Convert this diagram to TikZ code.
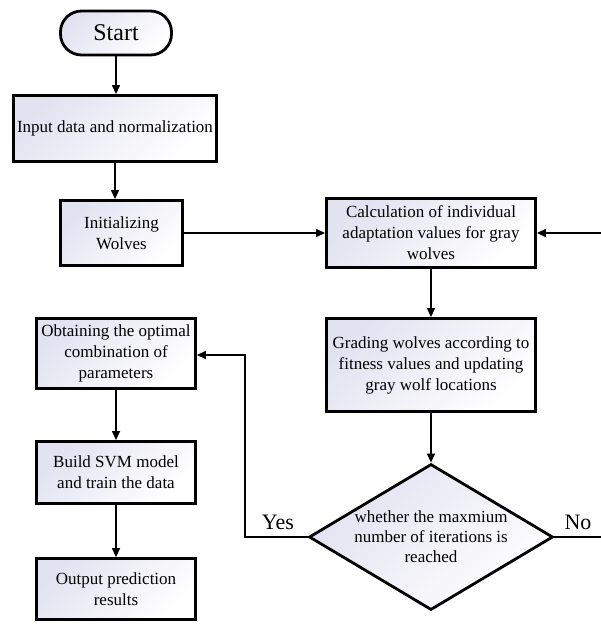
\documentclass[tikz,border=0pt]{standalone}
\usepackage{fontspec}
\setmainfont{Liberation Serif}
\usetikzlibrary{shapes.geometric,arrows.meta}
\definecolor{lav}{HTML}{E2E2F1}
\begin{document}
\begin{tikzpicture}[x=1pt,y=-1pt,
  fillgrad/.style={top color=lav, bottom color=white, shading angle=45},
  box/.style={draw, line width=2.8pt, rectangle, inner sep=0pt, align=center,
    fillgrad, font=\fontsize{17}{21}\selectfont},
  term/.style={box, rounded corners=21pt, font=\fontsize{24}{28}\selectfont},
  dec/.style={draw, line width=2.8pt, diamond, inner sep=0pt, fillgrad,
    minimum width=244pt, minimum height=146pt},
  txt/.style={align=center, font=\fontsize{17}{20}\selectfont},
  lab/.style={font=\fontsize{22}{24}\selectfont},
  conn/.style={line width=1.3pt},
  arr/.style={conn, -{Triangle[length=9pt,width=8pt]}}]
\useasboundingbox (0,0) rectangle (601,626);

\node[term, minimum width=111pt, minimum height=44pt] (start) at (116,33) {Start};
\node[box, minimum width=203pt, minimum height=66pt] (inp) at (115,128.5) {Input data and normalization};
\node[box, minimum width=122pt, minimum height=65pt] (init) at (121.5,233) {Initializing\\Wolves};
\node[box, minimum width=209pt, minimum height=69pt] (calc) at (431,233) {Calculation of individual\\adaptation values for gray\\wolves};
\node[box, minimum width=209pt, minimum height=93pt] (grade) at (431,365) {Grading wolves according to\\fitness values and updating\\gray wolf locations};
\node[dec] (dia) at (431,537) {};
\node[txt] (diat) at (431,537) {whether the maxmium\\number of iterations is\\reached};
\node[box, minimum width=159pt, minimum height=70pt] (obt) at (116,353.5) {Obtaining the optimal\\combination of\\parameters};
\node[box, minimum width=159pt, minimum height=62pt] (build) at (116,472.5) {Build SVM model\\and train the data};
\node[box, minimum width=159pt, minimum height=61pt] (out) at (116,589) {Output prediction\\results};

\node[lab] (yes) at (278,522) {Yes};
\node[lab] (no) at (578,522) {No};

\coordinate (rin) at (601,233);
\coordinate (yc) at (245,355);
\coordinate (nout) at (601,537);

\draw[arr] (start.south) -- (start.south |- inp.north);
\draw[arr] (inp.south) -- (inp.south |- init.north);
\draw[arr] (init.east) -- (calc.west);
\draw[arr] (rin) -- (calc.east);
\draw[arr] (calc.south) -- (grade.north);
\draw[arr] (grade.south) -- (dia.north);
\draw[arr] (dia.west) -| (yc) -- (obt.east |- yc);
\draw[conn] (dia.east) -- (nout);
\draw[arr] (obt.south) -- (build.north);
\draw[arr] (build.south) -- (out.north);
\end{tikzpicture}
\end{document}
